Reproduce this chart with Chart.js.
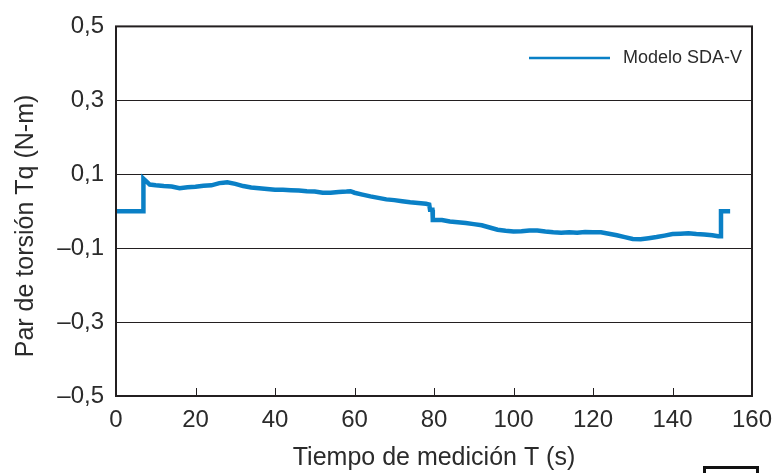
<title>Par de torsión</title>
<meta charset="UTF-8">
<body style="margin:0; background:#fff">
<script src="https://cdn.jsdelivr.net/npm/chart.js@4/dist/chart.umd.min.js"></script>
<div style="position:relative; width:775px; height:473px; overflow:hidden">
<canvas id="chart1" width="775" height="473"></canvas>
<div style="position:absolute; left:703px; top:466px; width:50px; height:20px; border:3px solid #111"></div>
</div>
<script>
// tiempo (s) y par (N-m)
var tiempo = [0, 6.8, 6.9, 7.5, 8.5, 10, 12, 14, 16, 18, 20, 22, 24, 26, 27, 28, 30, 32, 34, 36, 38, 40,
  42, 44, 46, 48, 50, 52, 54, 56, 58, 59, 60, 62, 64, 66, 68, 70, 72, 74, 76, 78, 78.8, 79.0, 79.6, 79.7,
  82, 84, 86, 88, 90, 92, 94, 96, 98, 100, 102, 104, 106, 108, 110, 112, 114, 116, 118, 120, 122, 124,
  126, 128, 130, 132, 134, 136, 138, 140, 142, 144, 146, 148, 150, 151.5, 152, 152.2, 154.5];
var par = [0, 0, 0.088, 0.082, 0.072, 0.070, 0.068, 0.067, 0.062, 0.065, 0.066, 0.069, 0.070, 0.076, 0.077, 0.078, 0.074, 0.068, 0.064, 0.062, 0.060, 0.058,
  0.058, 0.057, 0.056, 0.054, 0.053, 0.050, 0.050, 0.052, 0.053, 0.054, 0.050, 0.045, 0.040, 0.036, 0.032, 0.030, 0.027, 0.024, 0.022, 0.020, 0.018, 0.004, 0.004, -0.024,
  -0.024, -0.028, -0.030, -0.032, -0.035, -0.038, -0.044, -0.050, -0.053, -0.055, -0.054, -0.052, -0.052, -0.055, -0.057, -0.058, -0.057, -0.058, -0.056, -0.057, -0.057, -0.061,
  -0.065, -0.070, -0.075, -0.076, -0.073, -0.070, -0.066, -0.062, -0.061, -0.060, -0.062, -0.063, -0.065, -0.068, -0.068, 0.0, 0.0];

var yTicks = [-0.5, -0.3, -0.1, 0.1, 0.3, 0.5];
var yTickLabels = ["\u20130,5", "\u20130,3", "\u20130,1", "0,1", "0,3", "0,5"];
var xTicks = [0, 20, 40, 60, 80, 100, 120, 140, 160];
var yTitulo = "Par de torsión Tq (N-m)";

var puntos = [];
for (var i = 0; i < tiempo.length; i++) puntos.push({x: tiempo[i], y: par[i]});

var txt = "#2b2b2b";
var fuente = "'Liberation Sans', Arial, sans-serif";

var marco = {
  id: "marco",
  afterDraw: function(c) {
    var ctx = c.ctx, a = c.chartArea, xs = c.scales.x;
    ctx.save();
    ctx.strokeStyle = "#231f20";
    ctx.lineWidth = 2;
    ctx.strokeRect(a.left, a.top, a.right - a.left, a.bottom - a.top);
    // marcas hacia dentro en el eje x
    ctx.lineWidth = 1;
    xTicks.forEach(function(v) {
      var px = Math.round(xs.getPixelForValue(v)) + 0.5;
      ctx.beginPath();
      ctx.moveTo(px, a.bottom);
      ctx.lineTo(px, a.bottom - 8);
      ctx.stroke();
    });
    // titulo del eje y (algo bajo el centro, como en el original)
    ctx.fillStyle = txt;
    ctx.font = "25px " + fuente;
    ctx.textAlign = "center";
    ctx.textBaseline = "middle";
    ctx.translate(26, 226);
    ctx.rotate(-Math.PI / 2);
    ctx.fillText(yTitulo, 0, 0);
    ctx.setTransform(1, 0, 0, 1, 0, 0);
    ctx.restore();
    ctx.save();
    // leyenda
    var ds = c.data.datasets[0];
    ctx.strokeStyle = ds.borderColor;
    ctx.lineWidth = 2.5;
    ctx.beginPath();
    ctx.moveTo(529, 58);
    ctx.lineTo(610, 58);
    ctx.stroke();
    ctx.fillStyle = txt;
    ctx.font = "18px " + fuente;
    ctx.textBaseline = "middle";
    ctx.fillText(ds.label, 623, 58);
    ctx.restore();
  }
};

new Chart("chart1", {
  type: "line",
  data: {
    datasets: [{
      label: "Modelo SDA-V",
      data: puntos,
      borderColor: "#0a80c6",
      borderWidth: 4.5,
      pointRadius: 0,
      tension: 0
    }]
  },
  options: {
    responsive: false,
    animation: false,
    devicePixelRatio: 1,
    layout: {padding: {top: 22, right: 23, left: 0, bottom: 0}},
    plugins: {legend: {display: false}, tooltip: {enabled: false}},
    scales: {
      x: {
        type: "linear",
        min: 0, max: 160,
        afterBuildTicks: function(s) { s.ticks = xTicks.map(function(v) { return {value: v}; }); },
        afterFit: function(s) { s.height = 77; },
        grid: {display: false},
        border: {display: false},
        ticks: {color: txt, font: {size: 24, family: fuente}, padding: 2, maxRotation: 0},
        title: {display: true, text: "Tiempo de medición T (s)", color: txt, font: {size: 25, family: fuente}, padding: {top: 4, bottom: 0}}
      },
      y: {
        min: -0.5, max: 0.5,
        afterBuildTicks: function(s) { s.ticks = yTicks.map(function(v) { return {value: v}; }); },
        afterFit: function(s) { s.width = 116; },
        grid: {color: "#231f20", lineWidth: 1, drawTicks: false},
        border: {display: false},
        ticks: {
          color: txt, font: {size: 24, family: fuente}, padding: 12,
          callback: function(v) { return yTickLabels[yTicks.indexOf(Math.round(v * 10) / 10)]; }
        },
        title: {display: false}
      }
    }
  },
  plugins: [marco]
});
</script>
</body>
